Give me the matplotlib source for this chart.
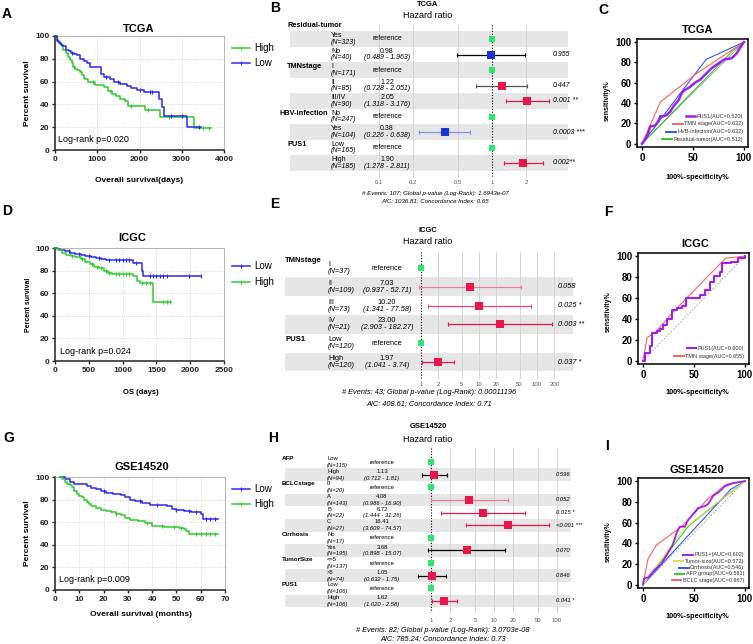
import numpy as np
import matplotlib
matplotlib.use("Agg")
import matplotlib.pyplot as plt
from matplotlib.lines import Line2D
from matplotlib.offsetbox import AnchoredOffsetbox, VPacker, HPacker, TextArea, DrawingArea

plt.rcParams['font.family'] = ['Liberation Sans', 'DejaVu Sans']

nan = np.nan

# Kaplan-Meier curves (time, survival %)

# A - TCGA (days)
a_high_t = [0, 40, 80, 120, 160, 200, 250, 300, 350, 400, 430, 480, 530, 580, 630, 680, 720, 780,
            950, 1150, 1250, 1350, 1450, 1550, 1650, 1720, 2120, 2480, 3280]
a_high_s = [100, 97, 95, 93, 91, 88, 85, 82, 79, 76, 73, 71, 70, 68, 66, 63, 62, 60,
            57, 55, 52, 49, 47, 45, 43, 39, 35, 29, 19]
a_high_end = 3700
a_high_cens = [150, 450, 900, 1300, 1800, 2200, 2700, 3500, 3650]
a_low_t = [0, 50, 100, 150, 200, 260, 320, 380, 450, 520, 600, 680, 760, 820, 1100, 1150, 1300,
           1400, 1550, 1700, 1800, 1950, 2100, 2450, 2530, 2570, 3130]
a_low_s = [100, 96, 94, 92, 91, 88, 87, 85, 84, 83, 80, 78, 76, 73, 67, 64, 62,
           60, 58, 56, 54, 53, 51, 45, 38, 30, 20]
a_low_end = 3450
a_low_cens = [400, 1200, 1500, 2000, 2250, 2300, 2750, 3000, 3400]

# D - ICGC (days)
d_low_t = [0, 30, 80, 150, 220, 300, 380, 450, 530, 600, 680, 760, 1150, 1280, 1300]
d_low_s = [100, 99, 98, 97, 96, 95, 94, 93, 92, 91, 90, 89, 87, 80, 75]
d_low_end = 2160
d_low_cens = [200, 350, 500, 650, 800, 900, 950, 1000, 1050, 1100, 1200, 1400, 1450, 1500, 1550,
              1600, 1650, 1980, 2160]
d_high_t = [0, 40, 100, 160, 230, 300, 380, 450, 520, 580, 650, 720, 780, 850, 1150, 1210, 1250, 1450]
d_high_s = [100, 98, 96, 94, 93, 92, 90, 88, 86, 83, 82, 80, 78, 77, 75, 71, 69, 52]
d_high_end = 1720
d_high_cens = [250, 400, 550, 620, 680, 750, 800, 900, 950, 1000, 1050, 1100, 1280, 1350, 1400,
               1600, 1650, 1700]

# G - GSE14520 (months)
g_low_t = [2, 4, 6, 8, 13, 15, 17, 19, 21, 24, 27, 29, 31, 33, 36, 39, 46, 48, 50, 53, 56, 60, 61]
g_low_s = [100, 98, 96, 94, 92, 90, 89, 88, 86, 85, 84, 82, 80, 79, 77, 75, 74, 72, 71, 70, 69, 67, 63]
g_low_end = 67
g_low_cens = [20, 35, 42, 50, 55, 58, 62, 64, 66]
g_high_t = [2, 3, 4, 5, 6, 7, 8, 9, 10, 11, 12, 13, 14, 15, 17, 19, 21, 23, 25, 27, 29, 31, 34, 37,
            40, 45, 51, 53, 54, 55]
g_high_s = [100, 98, 96, 94, 93, 91, 88, 85, 83, 82, 80, 78, 76, 74, 73, 71, 70, 69, 67, 66, 64, 62,
            61, 59, 57, 56, 55, 54, 52, 50]
g_high_end = 67
g_high_cens = [25, 38, 44, 49, 52, 58, 60, 62, 64, 66]

# B - TCGA forest
b_var = ['Residual-tumor', '', 'TMNstage', '', '', 'HBV-infection', '', 'PUS1', '']
b_level = ['Yes', 'No', 'I', 'II', 'III/IV', 'No', 'Yes', 'Low', 'High']
b_n = [323, 40, 171, 85, 90, 247, 104, 165, 185]
b_hr = [nan, 0.98, nan, 1.22, 2.05, nan, 0.38, nan, 1.90]
b_lo = [nan, 0.489, nan, 0.728, 1.318, nan, 0.226, nan, 1.278]
b_hi = [nan, 1.963, nan, 2.051, 3.176, nan, 0.638, nan, 2.811]
b_p = ['', '0.955', '', '0.447', '0.001 **', '', '0.0003 ***', '', '0.002**']
b_ticks = [0.1, 0.2, 0.5, 1, 2]
b_footer = ['# Events: 107; Global p-value (Log-Rank): 1.6943e-07',
            'AIC: 1036.81; Concordance Index: 0.65']

# E - ICGC forest
e_var = ['TMNstage', '', '', '', 'PUS1', '']
e_level = ['I', 'II', 'III', 'IV', 'Low', 'High']
e_n = [37, 109, 73, 21, 120, 120]
e_hr = [nan, 7.03, 10.20, 23.00, nan, 1.97]
e_lo = [nan, 0.937, 1.341, 2.903, nan, 1.041]
e_hi = [nan, 52.71, 77.58, 182.27, nan, 3.74]
e_p = ['', '0.058', '0.025 *', '0.003 **', '', '0.037 *']
e_ticks = [1, 2, 5, 10, 20, 50, 100, 200]
e_footer = ['# Events: 43; Global p-value (Log-Rank): 0.00011196',
            'AIC: 408.61; Concordance Index: 0.71']

# H - GSE14520 forest
h_var = ['AFP', '', 'BCLCstage', '', '', '', 'Cirrhosis', '', 'TumorSize', '', 'PUS1', '']
h_level = ['Low', 'High', '0', 'A', 'B', 'C', 'No', 'Yes', '<=5', '>5', 'Low', 'High']
h_n = [115, 94, 20, 143, 22, 27, 17, 195, 137, 74, 106, 106]
h_hr = [nan, 1.13, nan, 4.08, 6.72, 16.41, nan, 3.68, nan, 1.05, nan, 1.62]
h_lo = [nan, 0.712, nan, 0.986, 1.444, 3.609, nan, 0.898, nan, 0.632, nan, 1.020]
h_hi = [nan, 1.81, nan, 16.90, 31.26, 74.57, nan, 15.07, nan, 1.75, nan, 2.58]
h_p = ['', '0.596', '', '0.052', '0.015 *', '<0.001 ***', '', '0.070', '', '0.846', '', '0.041 *']
h_ticks = [1, 2, 5, 10, 20, 50, 100]
h_footer = ['# Events: 82; Global p-value (Log-Rank): 3.0703e-08',
            'AIC: 785.24; Concordance Index: 0.73']

# ROC curves (100%-specificity, sensitivity)
c_pus1_x = [0, 3, 6, 8, 13, 16, 18, 21, 24, 28, 31, 36, 39, 42, 46, 52, 57, 62, 68, 75, 81, 88, 93, 96, 100]
c_pus1_y = [0, 4, 10, 17, 18, 22, 27, 27, 28, 32, 37, 43, 50, 53, 55, 60, 63, 68, 74, 79, 83, 84, 89, 94, 100]
c_tmn_x = [0, 18, 52, 100]
c_tmn_y = [0, 41, 68, 100]
c_hbv_x = [0, 63, 100]
c_hbv_y = [0, 83, 100]
c_res_x = [0, 88, 100]
c_res_y = [0, 90.5, 100]
c_labels = ['PUS1(AUC=0.520)', 'TMN stage(AUC=0.632)', 'HVB-infection(AUC=0.632)',
            'Residual-tumor(AUC=0.512)']

f_pus1_x = [0, 2, 7, 9, 14, 17, 20, 24, 28, 33, 38, 42, 56, 61, 66, 70, 76, 78, 86, 93, 100]
f_pus1_y = [0, 7, 14, 26, 28, 30, 34, 40, 48, 50, 52, 60, 63, 68, 75, 81, 85, 93, 94, 98, 100]
f_tmn_x = [0, 4, 12, 30, 81, 100]
f_tmn_y = [0, 22, 27, 47, 98, 100]
f_labels = ['PUS1(AUC=0.600)', 'TMN stage(AUC=0.655)']

i_pus1_x = [0, 1, 5, 11, 18, 24, 29, 33, 36, 41, 44, 49, 54, 61, 64, 69, 74, 80, 88, 100]
i_pus1_y = [0, 6, 7, 14, 20, 30, 38, 50, 56, 56, 62, 68, 74, 76, 78, 86, 89, 95, 98, 100]
i_tumor_x = [0, 40, 100]
i_tumor_y = [0, 54, 100]
i_cirr_x = [0, 86, 100]
i_cirr_y = [0, 92, 100]
i_afp_x = [0, 45, 100]
i_afp_y = [0, 57, 100]
i_bclc_x = [0, 5, 13, 39, 64, 82, 100]
i_bclc_y = [0, 25, 38, 57, 83, 97, 100]
i_labels = ['PUS1=(AUC=0.602)', 'Tumor-size(AUC=0.572)', 'Cirrhosis(AUC=0.546)',
            'AFP group(AUC=0.561)', 'BCLC stage(AUC=0.667)']

# colours
KM_GREEN = '#2fcc2f'
KM_BLUE = '#2a2aee'
GREEN = '#2ee86c'
RED = '#e8174a'
BLUE = '#1a33d6'
LBLUE = '#7f90ea'
PINK = '#f07c98'
MIDRED = '#ee4670'
PURPLE = '#a020f0'
SALMON = '#ff6060'
RBLUE = '#3355ff'
RGREEN = '#33cc33'
YELLOW = '#dede5a'

b_box_c = [None, BLUE, None, RED, RED, None, BLUE, None, RED]
b_line_c = [None, 'black', None, '#555555', RED, None, LBLUE, None, RED]
e_box_c = [None, RED, RED, RED, None, RED]
e_line_c = [None, PINK, MIDRED, RED, None, RED]
h_box_c = [None, RED, None, RED, RED, RED, None, RED, None, RED, None, RED]
h_line_c = [None, 'black', None, PINK, RED, RED, None, 'black', None, 'black', None, RED]

W, H = 753, 644
fig = plt.figure(figsize=(W / 100, H / 100), dpi=100)


def add_box(l, t, r, b):
    return fig.add_axes([l / W, 1 - b / H, (r - l) / W, (b - t) / H])


def ftext(x, y, s, **kw):
    kw.setdefault('ha', 'center')
    kw.setdefault('va', 'center')
    return fig.text(x / W, 1 - y / H, s, **kw)


def km_panel(box, curves, xmax, xstep, title, title_xy, xlabel, xlab_xy, ylab_xy, lab_size,
             ptext, p_xy):
    ax = add_box(*box)
    for t, s, tend, cens, color, name, ly in curves:
        ax.step(list(t) + [tend], list(s) + [s[-1]], where='post', color=color, lw=1.1,
                clip_on=False, zorder=3)
        idx = np.searchsorted(t, cens, side='right') - 1
        ax.plot(cens, np.asarray(s)[idx], ls='none', marker='|', ms=2.5, mew=0.8, color=color,
                zorder=3)
        fig.add_artist(Line2D([232 / W, 250 / W], [1 - ly / H] * 2, color=color, lw=1.1))
        fig.add_artist(Line2D([241 / W], [1 - ly / H], marker='|', ms=2.5, mew=0.8, color=color))
        ftext(254, ly, name, ha='left', size=7)
    ax.set_xlim(0, xmax)
    ax.set_ylim(0, 100)
    ax.set_xticks(np.arange(0, xmax + 1, xstep))
    ax.set_yticks(np.arange(0, 101, 20))
    ax.grid(True, ls=(0, (1, 1.5)), color='#cfcfcf', lw=0.6)
    ax.set_axisbelow(True)
    for sp in ('left', 'bottom'):
        ax.spines[sp].set_linewidth(1.2)
        ax.spines[sp].set_color('#333333')
    for sp in ('top', 'right'):
        ax.spines[sp].set_linewidth(0.6)
        ax.spines[sp].set_color('#aaaaaa')
    ax.tick_params(direction='out', length=2.5, width=1, labelsize=6, pad=1.5, colors='#222222')
    for lb in ax.get_xticklabels() + ax.get_yticklabels():
        lb.set_fontweight('bold')
    ftext(*title_xy, title, size=8, weight='bold')
    ftext(*xlab_xy, xlabel, size=lab_size[0], weight='bold')
    ftext(*ylab_xy, 'Percent survival', size=lab_size[1], weight='bold', rotation=90)
    ftext(*p_xy, ptext, ha='left', size=6.5)
    return ax


def forest(g, var, level, n, hr, lo, hi, p, box_c, line_c, ticks, hi_fmt, title, footer):
    l, t, r, b = g['box']
    px1, ppd = g['px1'], g['ppd']
    nrow = len(level)
    rowh = (b - t) / nrow
    ax = add_box(l, t, r, b)
    ax.set_xlim((l - px1) / ppd, (r - px1) / ppd)
    ax.set_ylim(nrow - 0.5, -0.5)
    ax.axis('off')
    for i in range(nrow):
        if (nrow - 1 - i) % 2 == 0:
            ax.axhspan(i - 0.5, i + 0.5, color='#e6e6e6', lw=0, zorder=0)
    g0, g1 = [(y - t) / rowh - 0.5 for y in g['grid_y']]
    for tk in ticks:
        if tk == 1:
            ax.plot([0, 0], [g0, g1], color='black', lw=0.8, ls=(0, (1, 1.5)), zorder=2,
                    clip_on=False)
        else:
            ax.plot([np.log10(tk)] * 2, [g0, g1], color='#d4d4d4', lw=0.7, zorder=1,
                    clip_on=False)
        ftext(px1 + ppd * np.log10(tk), g['tick_y'], '%g' % tk, size=4.3, color='#555555')
    fs = g['fs']
    dy = g['dy'] * rowh
    for i in range(nrow):
        yc = t + (i + 0.5) * rowh
        if var[i]:
            if i == 0:
                ftext(g['x_var'], yc - dy - g['first_up'], var[i], ha='left', size=fs + 0.3,
                      weight='bold')
            elif len(var[i]) > 10:
                # long names sit right against the level column
                ftext(g['x_lvl'] - 3, yc - dy, var[i], ha='right', size=fs + 0.3, weight='bold')
            else:
                ftext(g['x_var'], yc - dy, var[i], ha='left', size=fs + 0.3, weight='bold')
        ftext(g['x_lvl'], yc - dy, level[i], ha='left', size=fs)
        ftext(g['x_lvl'], yc + dy, '(N=%d)' % n[i], ha='left', size=fs, style='italic')
        if np.isnan(hr[i]):
            ftext(g['x_hr'], yc, 'reference', size=fs)
            ax.plot(0, i, 's', color=GREEN, ms=g['ms_ref'], mew=0, zorder=4)
        else:
            ftext(g['x_hr'], yc - dy, '%.2f' % hr[i], size=fs)
            ftext(g['x_hr'], yc + dy, ('(%.3f - ' + hi_fmt + ')') % (lo[i], hi[i]), size=fs,
                  style='italic')
            ftext(g['x_p'], yc, p[i], ha='left', size=fs, style='italic')
            xs = np.log10([lo[i], hi[i]])
            ax.plot(xs, [i, i], color=line_c[i], lw=0.9, zorder=3)
            ax.plot(xs, [i, i], ls='none', marker='|', ms=2.5, mew=0.8, color=line_c[i], zorder=3)
            ax.plot(np.log10(hr[i]), i, 's', color=box_c[i], ms=g['ms'], mew=0, zorder=4)
    ftext(g['title_x'], g['title_y'][0], title, size=5.5, weight='bold')
    ftext(g['title_x'], g['title_y'][1], 'Hazard ratio', size=6.5)
    ftext(g['foot_x'], g['foot_y'][0], footer[0], size=g['foot_fs'], style='italic')
    ftext(g['foot_x'], g['foot_y'][1], footer[1], size=g['foot_fs'], style='italic')
    return ax


def roc_panel(box, curves, title, title_xy, xlab_xy, ylab_xy, diag_ls, leg_sep):
    ax = add_box(*box)
    ax.plot([0, 100], [0, 100], color='#999999', lw=0.6, ls=diag_ls, zorder=1)
    for x, y, c, lw, lab, kind in reversed(curves):
        if kind == 'step':
            ax.step(x, y, where='post', color=c, lw=lw, zorder=2)
        else:
            ax.plot(x, y, color=c, lw=lw, zorder=2)
    ax.set_xlim(-4.9, 104)
    ax.set_ylim(-3.2, 103)
    ax.set_xticks([0, 50, 100])
    ax.set_yticks(np.arange(0, 101, 20))
    for sp in ax.spines.values():
        sp.set_linewidth(1.1)
    ax.tick_params(direction='out', length=2.5, width=1, labelsize=7, pad=1.5)
    for lb in ax.get_xticklabels() + ax.get_yticklabels():
        lb.set_fontweight('bold')
    rows = []
    for x, y, c, lw, lab, kind in curves:
        da = DrawingArea(7, 4, 0, 0)
        da.add_artist(Line2D([0, 7], [2, 2], color=c, lw=max(lw, 1.4)))
        ta = TextArea(lab, textprops=dict(size=4, color='#333333'))
        rows.append(HPacker(children=[da, ta], align='center', pad=0, sep=1))
    vp = VPacker(children=rows, align='right', pad=0, sep=leg_sep)
    ab = AnchoredOffsetbox(loc='lower right', child=vp, pad=0.1, borderpad=0.25, frameon=False)
    ax.add_artist(ab)
    ftext(*title_xy, title, size=8, weight='bold')
    ftext(*xlab_xy, '100%-specificity%', size=5.3, weight='bold')
    ftext(*ylab_xy, 'sensitivity%', size=5, weight='bold', rotation=90)
    return ax


# ---- Kaplan-Meier panels ----
km_panel((55, 36, 224, 150),
         [(a_high_t, a_high_s, a_high_end, a_high_cens, KM_GREEN, 'High', 48),
          (a_low_t, a_low_s, a_low_end, a_low_cens, KM_BLUE, 'Low', 63)],
         4000, 1000, 'TCGA', (139, 29), 'Overall survival(days)', (139, 180), (28, 93), (6, 6),
         'Log-rank p=0.020', (58, 140))
km_panel((55, 248, 224, 361),
         [(d_low_t, d_low_s, d_low_end, d_low_cens, KM_BLUE, 'Low', 266),
          (d_high_t, d_high_s, d_high_end, d_high_cens, KM_GREEN, 'High', 282)],
         2500, 500, 'ICGC', (132, 238), 'OS (days)', (141, 393), (28, 305), (5.5, 5),
         'Log-rank p=0.024', (60, 352))
km_panel((55, 477, 225, 590),
         [(g_low_t, g_low_s, g_low_end, g_low_cens, KM_BLUE, 'Low', 489),
          (g_high_t, g_high_s, g_high_end, g_high_cens, KM_GREEN, 'High', 504)],
         70, 10, 'GSE14520', (142, 467), 'Overall survival (months)', (141, 615), (28, 533), (6, 6),
         'Log-rank p=0.009', (59, 579))

# ---- forest panels ----
forest(dict(box=(290, 31.25, 568, 170.75), px1=492, ppd=113, grid_y=(25, 177), tick_y=183,
            x_var=287, x_lvl=331, x_hr=387, x_p=553, fs=5, dy=0.21, first_up=10, ms=5.8,
            ms_ref=4.6, title_x=428, title_y=(5, 15), foot_x=435, foot_y=(193, 201), foot_fs=4.4),
       b_var, b_level, b_n, b_hr, b_lo, b_hi, b_p, b_box_c, b_line_c, b_ticks, '%.3f', 'TCGA',
       b_footer)
forest(dict(box=(285, 258.6, 573, 371.4), px1=421, ppd=58, grid_y=(252, 378), tick_y=384,
            x_var=285, x_lvl=328, x_hr=387, x_p=558, fs=5.3, dy=0.19, first_up=4, ms=5.2,
            ms_ref=4.2, title_x=428, title_y=(230, 241), foot_x=429, foot_y=(393, 404), foot_fs=5.3),
       e_var, e_level, e_n, e_hr, e_lo, e_hi, e_p, e_box_c, e_line_c, e_ticks, '%.2f', 'ICGC',
       e_footer)
forest(dict(box=(285, 455.7, 571, 607.3), px1=431, ppd=63, grid_y=(448, 612), tick_y=621,
            x_var=282, x_lvl=327, x_hr=382, x_p=556, fs=4.2, dy=0.27, first_up=0, ms=5.2,
            ms_ref=4.3, title_x=428, title_y=(426, 439), foot_x=443, foot_y=(630, 639), foot_fs=5.3),
       h_var, h_level, h_n, h_hr, h_lo, h_hi, h_p, h_box_c, h_line_c, h_ticks, '%.2f', 'GSE14520',
       h_footer)

# ---- ROC panels ----
roc_panel((637, 39, 748, 147),
          [(c_pus1_x, c_pus1_y, PURPLE, 1.8, c_labels[0], 'line'),
           (c_tmn_x, c_tmn_y, SALMON, 0.8, c_labels[1], 'line'),
           (c_hbv_x, c_hbv_y, RBLUE, 0.8, c_labels[2], 'line'),
           (c_res_x, c_res_y, RGREEN, 0.8, c_labels[3], 'line')],
          'TCGA', (698, 30), (697, 177), (607, 101), '-', 1.6)
roc_panel((638, 253, 749, 364),
          [(f_pus1_x, f_pus1_y, PURPLE, 1.5, f_labels[0], 'step'),
           (f_tmn_x, f_tmn_y, SALMON, 0.8, f_labels[1], 'line')],
          'ICGC', (695, 244), (697, 392), (608, 312), (0, (2, 2)), 2.0)
roc_panel((638, 478, 749, 588),
          [(i_pus1_x, i_pus1_y, PURPLE, 1.3, i_labels[0], 'line'),
           (i_tumor_x, i_tumor_y, YELLOW, 0.8, i_labels[1], 'line'),
           (i_cirr_x, i_cirr_y, RBLUE, 0.8, i_labels[2], 'line'),
           (i_afp_x, i_afp_y, RGREEN, 0.8, i_labels[3], 'line'),
           (i_bclc_x, i_bclc_y, SALMON, 0.8, i_labels[4], 'line')],
          'GSE14520', (697, 470), (697, 617), (608, 542), (0, (2, 2)), 0.6)

# ---- panel letters ----
for letter, x, y in [('A', 2, 8), ('B', 270, 3), ('C', 598, 4), ('D', 2, 205), ('E', 270, 198),
                     ('F', 604, 206), ('G', 3, 433), ('H', 268, 432), ('I', 605, 440)]:
    ftext(x, y - 1.5, letter, ha='left', va='top', size=10, weight='bold')

fig.savefig('out.png', dpi=100)
